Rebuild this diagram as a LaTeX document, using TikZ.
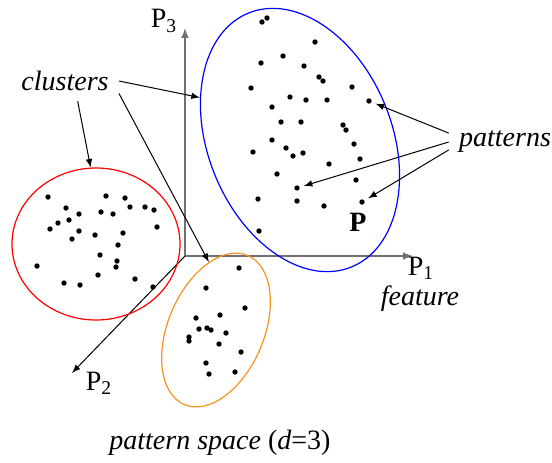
\documentclass[tikz,border=0pt]{standalone}
\usepackage{fontspec}
\setmainfont{Liberation Serif}
\usepackage{xcolor}
\usetikzlibrary{shapes.geometric, arrows, positioning}

\definecolor{axisgray}{RGB}{112,112,112}
\definecolor{clusterorange}{RGB}{247,147,30}

\begin{document}
\begin{tikzpicture}[x=0.5pt, y=-0.5pt, >=latex, font=\fontsize{14}{16}\selectfont,
    dot/.style={circle, fill=black, minimum size=2.7pt, inner sep=0pt},
    cluster/.style={draw, ellipse, inner sep=0pt, line width=0.6pt},
    axis/.style={->, draw=axisgray, line width=0.7pt},
    ptr/.style={->, line width=0.5pt},
    lbl/.style={inner sep=5pt}]

\useasboundingbox (0,0) rectangle (552,462);

% axes
\coordinate (O) at (185,256);
\coordinate (p1end) at (413,256);
\coordinate (p3end) at (185,28);
\coordinate (p2end) at (72,373);
\draw[axis] (O) -- (p1end);
\draw[axis] (O) -- (p3end);
\draw[->, line width=0.5pt] (O) -- (p2end);

% clusters
\node[cluster, draw=red, minimum width=84pt, minimum height=76pt] (redc) at (96,244) {};
\node[cluster, draw=blue, minimum width=92pt, minimum height=137pt, rotate=22] (bluec) at (300,140) {};
\node[cluster, draw=clusterorange, minimum width=48pt, minimum height=81pt, rotate=-23] (orangec) at (216,330) {};

% patterns
\foreach \x/\y [count=\i] in {48/197, 106/196, 125/198, 66/208, 79/214, 101/212, 113/214, 130/207,
    145/207, 154/210, 58/223, 69/220, 50/229, 79/231, 72/239, 95/235, 123/233, 118/245, 157/227,
    100/255, 117/261, 116/267, 37/266, 98/275, 135/279, 64/283, 80/285, 153/287}
  \node[dot] (r\i) at (\x,\y) {};
\foreach \x/\y [count=\i] in {262/22, 267/18, 315/42, 283/56, 261/63, 304/66, 319/77, 323/81,
    251/88, 352/87, 290/97, 306/100, 327/100, 369/101, 272/107, 281/122, 301/122, 343/125,
    346/130, 272/140, 354/144, 286/148, 293/156, 303/153, 253/152, 360/159, 329/164, 277/174,
    356/180, 297/188, 258/199, 297/201, 324/206, 362/202, 259/231}
  \node[dot] (b\i) at (\x,\y) {};
\foreach \x/\y [count=\i] in {239/268, 206/288, 245/308, 220/315, 196/318, 199/329, 207/328,
    211/330, 226/333, 189/337, 189/341, 219/344, 241/352, 206/363, 209/374, 235/372}
  \node[dot] (o\i) at (\x,\y) {};

% labels
\node[lbl] (clusters) at (65,81) {\textit{clusters}};
\node[lbl] (patterns) at (505,142) {\textit{patterns}};
\node[inner sep=0pt] (p3) at (164,21) {P\textsubscript{3}};
\node[inner sep=0pt] (p1) at (421,268) {P\textsubscript{1}};
\node[inner sep=0pt] (feature) at (420,299) {\textit{feature}};
\node[inner sep=0pt] (p2) at (99,383) {P\textsubscript{2}};
\node (pbold) at (358,222) {\textbf{P}};
\node (caption) at (220,443) {\textit{pattern space} (\textit{d}=3)};

\draw[ptr] (clusters.east) -- (bluec.135);
\draw[ptr] (clusters.-58) -- (redc.94);
\draw[ptr] (clusters.-13) -- (orangec.119);
\draw[ptr, shorten >=2pt] (patterns.171) -- (b14);
\draw[ptr, shorten >=2pt] (patterns.west) -- (b30);
\draw[ptr, shorten >=2pt] (patterns.188) -- (b34);
\end{tikzpicture}
\end{document}
